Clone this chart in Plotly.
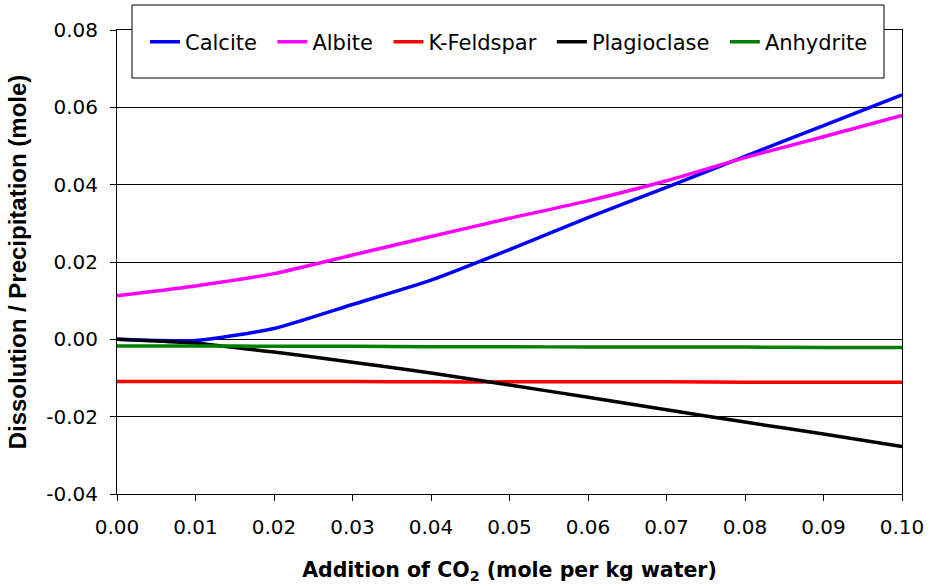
import plotly.graph_objects as go

co2 = [0.0, 0.005, 0.01, 0.02, 0.03, 0.04, 0.05, 0.06, 0.07, 0.08, 0.09, 0.10]
calcite = [0.0, -0.0003, -0.0003, 0.0028, 0.0090, 0.0153, 0.0232, 0.0315, 0.0393, 0.0473, 0.0553, 0.0632]
albite = [0.0113, 0.0125, 0.0138, 0.0170, 0.0218, 0.0266, 0.0313, 0.0358, 0.0410, 0.0470, 0.0524, 0.0579]
kfeldspar = [-0.0109, -0.0109, -0.0109, -0.0109, -0.0109, -0.0110, -0.0110, -0.0110, -0.0110, -0.0111, -0.0111, -0.0111]
plagioclase = [0.0, -0.0004, -0.0010, -0.0033, -0.0059, -0.0087, -0.0118, -0.0150, -0.0182, -0.0214, -0.0245, -0.0277]
anhydrite = [-0.0017, -0.0017, -0.0017, -0.0018, -0.0018, -0.0019, -0.0019, -0.0020, -0.0020, -0.0020, -0.0021, -0.0021]

series_names = ["Calcite", "Albite", "K-Feldspar", "Plagioclase", "Anhydrite"]
series_values = [calcite, albite, kfeldspar, plagioclase, anhydrite]
series_colors = ["#0000FF", "#FF00FF", "#FF0000", "#000000", "#008000"]

y_tickvals = [-0.04, -0.02, 0.0, 0.02, 0.04, 0.06, 0.08]
y_ticktext = ["-0.04", "-0.02", "0.00", "0.02", "0.04", "0.06", "0.08"]
x_tickvals = [0.0, 0.01, 0.02, 0.03, 0.04, 0.05, 0.06, 0.07, 0.08, 0.09, 0.10]
x_ticktext = ["0.00", "0.01", "0.02", "0.03", "0.04", "0.05", "0.06", "0.07", "0.08", "0.09", "0.10"]

WIDE = "DejaVu Sans, Verdana, sans-serif"
ARIAL = "Liberation Sans, Arial, sans-serif"

fig = go.Figure()
for i, (name, vals, col) in enumerate(zip(series_names, series_values, series_colors)):
    label = name if i == len(series_names) - 1 else name + "\u2002"
    fig.add_trace(go.Scatter(
        x=co2, y=vals, name=label, mode="lines",
        line=dict(color=col, width=3.5, shape="spline", smoothing=0.6),
    ))

# plot area in pixels: left 117, right 902, top 30, bottom 494
fig.update_layout(
    width=929, height=584,
    margin=dict(l=117, r=27, t=30, b=90),
    paper_bgcolor="white", plot_bgcolor="white",
    font=dict(family=WIDE, size=20, color="black"),
    showlegend=True,
    legend=dict(
        orientation="h",
        x=(509 - 117) / 785, xanchor="center",
        y=(494 - 42) / 464, yanchor="middle",
        bgcolor="rgba(0,0,0,0)", borderwidth=0,
        font=dict(family=WIDE, size=21, color="black"),
    ),
    xaxis=dict(
        range=[0, 0.10], tickvals=x_tickvals, ticktext=x_ticktext,
        showgrid=False, zeroline=False, automargin=False,
        showline=True, linecolor="black", linewidth=1, mirror=True,
        ticks="outside", ticklen=6, tickcolor="black",
        tickfont=dict(family=WIDE, size=20), ticklabelstandoff=9,
        title=dict(text="<b>Addition of CO<sub>2</sub> (mole per kg water)</b>",
                   font=dict(family=WIDE, size=20.5), standoff=32),
    ),
    yaxis=dict(
        range=[-0.04, 0.08], tickvals=y_tickvals, ticktext=y_ticktext,
        showgrid=True, gridcolor="black", gridwidth=1, zeroline=False, automargin=False,
        showline=True, linecolor="black", linewidth=1, mirror=True,
        ticks="outside", ticklen=6, tickcolor="black",
        tickfont=dict(family=WIDE, size=20), ticklabelstandoff=8,
        title=dict(text="<b>Dissolution / Precipitation (mole)</b>",
                   font=dict(family=ARIAL, size=24), standoff=12),
    ),
)

# legend box
fig.add_shape(type="rect", xref="paper", yref="paper",
              x0=(132 - 117) / 785, x1=(884 - 117) / 785,
              y0=(494 - 78) / 464, y1=(494 - 5) / 464,
              line=dict(color="black", width=1), fillcolor="white", layer="above")

fig.write_html("out.html", config={"displayModeBar": False},
               post_script="document.body.style.margin='0';document.body.style.padding='0';")
